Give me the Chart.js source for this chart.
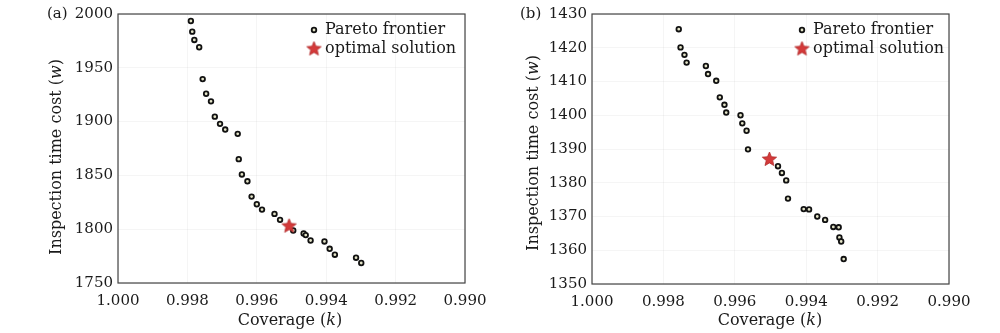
<!DOCTYPE html>
<html lang="en">
<head>
<meta charset="UTF-8">
<title>Pareto frontier</title>
<script src="https://cdn.jsdelivr.net/npm/chart.js"></script>
<style>
  body { margin: 0; background: #fff; }
  .panel { position: absolute; top: 0; width: 500px; height: 333px; }
  #panelA { left: 0; }
  #panelB { left: 500px; }
</style>
</head>
<body>
<div class="panel" id="panelA"><canvas id="chartA" width="500" height="333"></canvas></div>
<div class="panel" id="panelB"><canvas id="chartB" width="500" height="333"></canvas></div>

<script>
// (a) Pareto frontier
const coverageA = [0.99790, 0.99786, 0.99780, 0.99766, 0.99756, 0.99746, 0.99732, 0.99721, 0.99706, 0.99691,
    0.99655, 0.99652, 0.99643, 0.99627, 0.99615, 0.99600, 0.99585, 0.99549, 0.99533, 0.99495,
    0.99465, 0.99459, 0.99445, 0.99405, 0.99390, 0.99375, 0.99314, 0.99299];
const costA = [1993.5, 1983.6, 1975.9, 1969.1, 1939.5, 1925.9, 1918.8, 1904.6, 1897.9, 1892.6,
    1888.6, 1865.1, 1850.9, 1844.5, 1830.3, 1823.2, 1818.2, 1814.2, 1808.7, 1798.8,
    1796.0, 1794.5, 1789.5, 1788.6, 1781.8, 1776.3, 1773.5, 1768.6];
const optimalCoverageA = [0.99507];
const optimalCostA = [1802.8];
const yTicksA = [1750, 1800, 1850, 1900, 1950, 2000];

// (b) Pareto frontier
const coverageB = [0.99757, 0.99752, 0.99741, 0.99735, 0.99681, 0.99675, 0.99652, 0.99642, 0.99629, 0.99624,
    0.99584, 0.99579, 0.99567, 0.99563, 0.99479, 0.99468, 0.99456, 0.99451, 0.99407, 0.99392,
    0.99369, 0.99347, 0.99324, 0.99309, 0.99307, 0.99302, 0.99295];
const costB = [1425.5, 1420.1, 1417.9, 1415.6, 1414.6, 1412.2, 1410.2, 1405.3, 1403.1, 1400.8,
    1400.0, 1397.6, 1395.4, 1389.9, 1384.9, 1382.9, 1380.7, 1375.3, 1372.2, 1372.1,
    1370.0, 1369.0, 1366.9, 1366.8, 1363.8, 1362.6, 1357.4];
const optimalCoverageB = [0.99503];
const optimalCostB = [1386.9];
const yTicksB = [1350, 1360, 1370, 1380, 1390, 1400, 1410, 1420, 1430];

const xTicks = [1.000, 0.998, 0.996, 0.994, 0.992, 0.990];

const FONT = '"DejaVu Serif", "Liberation Serif", serif';
const TEXT = '#1a1a1a';
const STAR_RED = '#d43a3a';
const DOT_FILL = '#e4e4c8';

function starImage(r) {
    const c = document.createElement('canvas');
    c.width = c.height = Math.ceil(2 * r + 2);
    const g = c.getContext('2d');
    const cx = c.width / 2, cy = c.height / 2;
    g.beginPath();
    for (let i = 0; i < 10; i++) {
        const rad = i % 2 === 0 ? r : r * 0.45;
        const a = -Math.PI / 2 + i * Math.PI / 5;
        g.lineTo(cx + rad * Math.cos(a), cy + rad * Math.sin(a));
    }
    g.closePath();
    g.fillStyle = STAR_RED;
    g.fill();
    g.strokeStyle = '#b02828';
    g.lineWidth = 0.8;
    g.stroke();
    return c;
}

const bigStar = starImage(7.5);

function drawMixed(ctx, parts, cx, cy, size) {
    let total = 0;
    parts.forEach(p => { ctx.font = p[1] + ' ' + size + 'px ' + FONT; total += ctx.measureText(p[0]).width; });
    let x = cx - total / 2;
    ctx.textBaseline = 'middle';
    ctx.textAlign = 'left';
    parts.forEach(p => {
        ctx.font = p[1] + ' ' + size + 'px ' + FONT;
        ctx.fillText(p[0], x, cy);
        x += ctx.measureText(p[0]).width;
    });
}

// frame, panel label, axis titles, legend
const decorPlugin = {
    id: 'decor',
    afterDraw(chart, args, o) {
        const ctx = chart.ctx;
        const a = chart.chartArea;
        ctx.save();
        ctx.strokeStyle = '#444';
        ctx.lineWidth = 1.2;
        ctx.strokeRect(a.left, a.top, a.right - a.left, a.bottom - a.top);

        ctx.fillStyle = TEXT;
        ctx.font = '15px ' + FONT;
        ctx.textBaseline = 'middle';
        ctx.textAlign = 'left';
        ctx.fillText(o.label, o.labelX, a.top);

        drawMixed(ctx, [['Coverage (', 'normal'], ['k', 'italic'], [')', 'normal']], o.xTitleX, o.xTitleY, 16);

        ctx.save();
        ctx.translate(o.yTitleX, o.yTitleY);
        ctx.rotate(-Math.PI / 2);
        drawMixed(ctx, [['Inspection time cost (', 'normal'], ['w', 'italic'], [')', 'normal']], 0, 0, 16);
        ctx.restore();

        // legend
        const lx = a.right - o.legendOffset;
        ctx.beginPath();
        ctx.arc(lx, a.top + 16, 2.3, 0, Math.PI * 2);
        ctx.fillStyle = DOT_FILL;
        ctx.fill();
        ctx.lineWidth = 1.8;
        ctx.strokeStyle = '#111';
        ctx.stroke();
        ctx.drawImage(bigStar, lx - bigStar.width / 2, a.top + 35 - bigStar.height / 2);
        ctx.fillStyle = TEXT;
        ctx.font = '16px ' + FONT;
        ctx.textBaseline = 'middle';
        ctx.fillText('Pareto frontier', lx + 11, a.top + 16);
        ctx.fillText('optimal solution', lx + 11, a.top + 35);
        ctx.restore();
    }
};

function makeChart(id, cov, cost, optCov, optCost, yTicks, p) {
    const ctx = document.getElementById(id).getContext('2d');
    return new Chart(ctx, {
        type: 'scatter',
        data: {
            datasets: [{
                label: 'optimal solution',
                data: optCov.map((x, i) => ({ x: x, y: optCost[i] })),
                pointStyle: bigStar,
                order: 0
            }, {
                label: 'Pareto frontier',
                data: cov.map((x, i) => ({ x: x, y: cost[i] })),
                pointStyle: 'circle',
                pointRadius: 2.3,
                pointBorderWidth: 1.8,
                pointBackgroundColor: DOT_FILL,
                pointBorderColor: '#111',
                order: 1
            }]
        },
        options: {
            responsive: false,
            animation: false,
            events: [],
            layout: { padding: { left: 0, top: p.top, right: p.right, bottom: 0 } },
            plugins: {
                legend: { display: false },
                tooltip: { enabled: false },
                decor: p
            },
            scales: {
                x: {
                    type: 'linear',
                    reverse: true,
                    min: 0.990,
                    max: 1.000,
                    afterBuildTicks: s => { s.ticks = xTicks.map(v => ({ value: v })); },
                    afterFit: s => { s.height = p.xAxisH; },
                    ticks: {
                        color: TEXT,
                        font: { family: FONT, size: 15 },
                        padding: 9,
                        maxRotation: 0,
                        callback: v => v.toFixed(3)
                    },
                    grid: { color: 'rgba(0,0,0,0.04)', drawTicks: false },
                    border: { display: false }
                },
                y: {
                    type: 'linear',
                    min: yTicks[0],
                    max: yTicks[yTicks.length - 1],
                    afterBuildTicks: s => { s.ticks = yTicks.map(v => ({ value: v })); },
                    afterFit: s => { s.width = p.yAxisW; },
                    ticks: {
                        color: TEXT,
                        font: { family: FONT, size: 15 },
                        padding: 5,
                        callback: v => String(v)
                    },
                    grid: { color: 'rgba(0,0,0,0.04)', drawTicks: false },
                    border: { display: false }
                }
            }
        },
        plugins: [decorPlugin]
    });
}

makeChart('chartA', coverageA, costA, optimalCoverageA, optimalCostA, yTicksA, {
    top: 13, right: 35, xAxisH: 50, yAxisW: 118,
    label: '(a)', labelX: 47,
    xTitleX: 290, xTitleY: 321, yTitleX: 57, yTitleY: 157,
    legendOffset: 151
});

makeChart('chartB', coverageB, costB, optimalCoverageB, optimalCostB, yTicksB, {
    top: 14, right: 51, xAxisH: 49, yAxisW: 92,
    label: '(b)', labelX: 20,
    xTitleX: 270, xTitleY: 321, yTitleX: 34, yTitleY: 153,
    legendOffset: 147
});
</script>
</body>
</html>
